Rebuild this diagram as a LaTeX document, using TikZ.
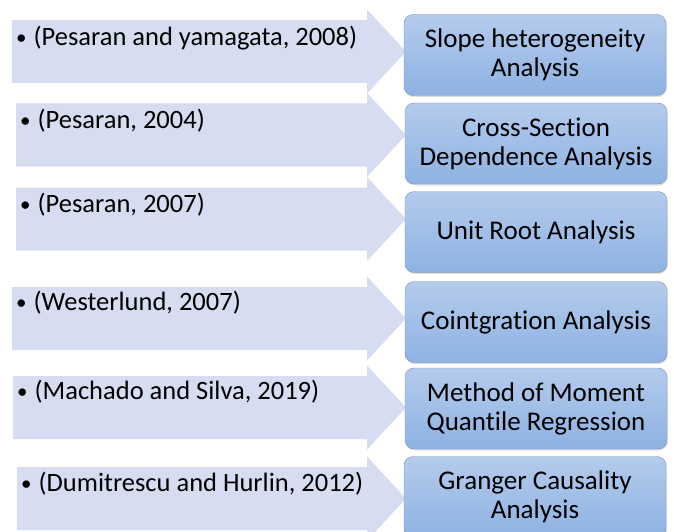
\documentclass[tikz,border=0pt]{standalone}
\usepackage{fontspec}
\setmainfont{Carlito}[Ligatures=NoCommon]
\usetikzlibrary{shadows}

\definecolor{arrowblue}{HTML}{D6DDF0}
\definecolor{boxtop}{HTML}{B4CBEC}
\definecolor{boxbot}{HTML}{8EB2E2}
\definecolor{boxedge}{HTML}{7E94B4}

\newcommand{\srcbullet}{\raisebox{1pt}{\fontsize{21}{21}\selectfont\textbullet}}

\tikzset{
  refarrow/.style={fill=arrowblue},
  reftext/.style={anchor=west, inner sep=0pt, font=\fontsize{26.5}{30}\selectfont},
  method/.style={draw=boxedge, rounded corners=9pt, top color=boxtop, bottom color=boxbot,
    minimum width=262pt, minimum height=81pt, align=center, inner sep=2pt,
    font=\fontsize{27}{29}\selectfont,
    drop shadow={shadow xshift=0.8pt, shadow yshift=-1.5pt, opacity=0.25}}
}

\begin{document}
\begin{tikzpicture}[x=1pt,y=-1pt]
   \useasboundingbox (0,0) rectangle (674,532);
   % sources: left arrows
   \foreach \n/\l/\c/\t/\src in {
      1/12/51.5/38/{(Pesaran and yamagata, 2008)},
      2/16/135/121/{(Pesaran, 2004)},
      3/16/219/205/{(Pesaran, 2007)},
      4/12/318.5/303/{(Westerlund, 2007)},
      5/13/407.5/392/{(Machado and Silva, 2019)},
      6/17/498.5/484/{(Dumitrescu and Hurlin, 2012)}} {
      \fill[refarrow] (\l,\c-31.5) -- (367,\c-31.5) -- (367,\c-42) -- (406,\c)
         -- (367,\c+42) -- (367,\c+31.5) -- (\l,\c+31.5) -- cycle;
      \node[reftext] (src\n) at (\l+4,\t) {\srcbullet\hspace{7pt}\src};
   }
   % methods: right boxes
   \node[method] (box1) at (535,55) {Slope heterogeneity\\Analysis};
   \node[method] (box2) at (536,143.5) {Cross-Section\\Dependence Analysis};
   \node[method] (box3) at (536,232) {Unit Root Analysis};
   \node[method] (box4) at (536,322) {Cointgration Analysis};
   \node[method] (box5) at (536,408.5) {Method of Moment\\Quantile Regression};
   \node[method] (box6) at (535,497) {Granger Causality\\Analysis};
\end{tikzpicture}
\end{document}
